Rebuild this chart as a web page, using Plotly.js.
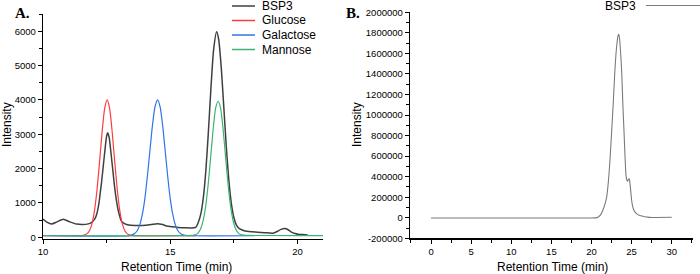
<!DOCTYPE html>
<html>
<head>
<meta charset="utf-8">
<script src="https://cdn.plot.ly/plotly-3.0.1.min.js"></script>
<style>html,body{margin:0;padding:0;background:#fff;}#chart{width:700px;height:274px;}</style>
</head>
<body>
<div id="chart"></div>
<script>
// ---------- Panel A data ----------
const seriesNamesA = ["BSP3", "Glucose", "Galactose", "Mannose"];

const bsp3X = [10.0,10.15,10.34,10.55,10.8,11.05,11.32,11.55,11.78,11.9,12.0,12.05,12.1,12.15,12.2,12.25,12.3,12.35,12.4,12.45,12.5,12.54,12.6,12.65,12.7,12.75,12.8,12.85,12.9,12.95,13.0,13.05,13.1,13.2,13.37,13.6,13.8,14.03,14.25,14.49,14.7,14.85,15.08,15.3,15.6,15.8,16.0,16.1,16.2,16.3,16.4,16.5,16.6,16.7,16.82,16.9,17.0,17.1,17.2,17.3,17.4,17.5,17.6,17.7,17.8,17.9,18.0,18.2,18.44,18.7,19.03,19.2,19.35,19.5,19.6,19.76,19.9,20.02,20.2,20.4];
const bsp3Y = [530,440,385,450,525,450,385,372,390,430,500,560,650,800,1000,1300,1600,1950,2300,2650,2950,3040,2900,2600,2250,1900,1550,1250,1000,800,650,520,450,400,358,345,343,350,370,397,370,330,305,288,275,272,290,430,680,1160,1970,3100,4370,5440,5980,5765,4970,3825,2650,1670,980,570,355,260,220,190,175,160,150,135,120,170,230,257,235,150,110,90,78,70];

const gluX = [10.0,11.5,11.62,11.72,11.82,11.92,12.02,12.12,12.22,12.32,12.42,12.52,12.62,12.72,12.82,12.92,13.02,13.12,13.22,13.32,13.42,13.6,16.0];
const gluY = [50,50,65,100,185,385,760,1370,2180,3050,3740,4000,3740,3050,2180,1370,760,385,185,100,65,50,50];

const galX = [10.0,13.4,13.5,13.6,13.7,13.8,13.9,14.0,14.1,14.2,14.3,14.4,14.5,14.6,14.7,14.8,14.9,15.0,15.1,15.2,15.3,15.4,15.5,15.6,15.8,18.3];
const galY = [45,45,70,110,190,360,660,1120,1770,2520,3260,3800,4000,3800,3260,2520,1770,1120,660,360,190,110,70,57,45,45];

const manX = [10.0,15.88,15.98,16.08,16.18,16.28,16.38,16.48,16.58,16.68,16.78,16.88,16.98,17.08,17.18,17.28,17.38,17.48,17.58,17.68,17.78,17.9,18.1,21.0];
const manY = [52,56,72,115,225,450,850,1470,2275,3110,3755,3960,3755,3110,2275,1470,850,450,225,115,80,65,55,50];

const xTicksA = [10, 15, 20];
const xTickTextA = ["10", "15", "20"];
const yTicksA = [0, 1000, 2000, 3000, 4000, 5000, 6000];
const yTickTextA = ["0", "1000", "2000", "3000", "4000", "5000", "6000"];

// ---------- Panel B data ----------
const seriesNameB = "BSP3";
const bX = [0,20.0,20.5,20.8,21.1,21.4,21.7,21.9,22.1,22.3,22.5,22.7,22.9,23.1,23.3,23.4,23.5,23.65,23.77,23.9,24.06,24.2,24.3,24.4,24.5,24.6,24.7,24.8,24.9,25.0,25.1,25.3,25.6,26.0,26.5,27.0,27.5,28.0,30.0];
const bY = [-3000,-3000,-1000,5000,25000,70000,140000,205000,350000,560000,823000,1100000,1409000,1640000,1770000,1785000,1740000,1580000,1409000,1120000,823000,560000,410000,370000,355000,375000,380000,330000,250000,173000,120000,70000,40000,22000,13000,6000,3000,3000,5000];

const xTicksB = [0, 5, 10, 15, 20, 25, 30];
const xTickTextB = ["0", "5", "10", "15", "20", "25", "30"];
const yTicksB = [-200000, 0, 200000, 400000, 600000, 800000, 1000000, 1200000, 1400000, 1600000, 1800000, 2000000];
const yTickTextB = ["-200000", "0", "200000", "400000", "600000", "800000", "1000000", "1200000", "1400000", "1600000", "1800000", "2000000"];

// ---------- styles ----------
const colorsA = ["#404040", "#ff3b3b", "#2f74e6", "#3cb371"];
const widthsA = [1.5, 1.2, 1.2, 1.2];
const FONT = "Liberation Sans, Arial, sans-serif";
const W = 700, H = 274;
const px = v => v / W;
const py = v => 1 - v / H;

const xsA = [bsp3X, gluX, galX, manX];
const ysA = [bsp3Y, gluY, galY, manY];

const traces = seriesNamesA.map((n, i) => ({
  x: xsA[i], y: ysA[i], name: n, type: "scatter", mode: "lines",
  line: { color: colorsA[i], width: widthsA[i], shape: "spline", smoothing: 0.6 },
  xaxis: "x", yaxis: "y", showlegend: false, hoverinfo: "skip"
}));
traces.push({
  x: bX, y: bY, name: seriesNameB, type: "scatter", mode: "lines",
  line: { color: "#7a7a7a", width: 1.1, shape: "spline", smoothing: 0.6 },
  xaxis: "x2", yaxis: "y2", showlegend: false, hoverinfo: "skip"
});

const axisCommon = {
  showline: true, linecolor: "#000", linewidth: 1.3, mirror: false,
  showgrid: false, zeroline: false, ticks: "outside", ticklen: 4,
  tickwidth: 1, tickcolor: "#000", tickmode: "array",
  tickfont: { family: FONT, size: 9.5, color: "#000" }
};

const shapes = [];
const annotations = [];

// Panel A legend (manual)
const legRowsA = [6, 20.5, 35, 49.5];
seriesNamesA.forEach((n, i) => {
  shapes.push({ type: "line", xref: "paper", yref: "paper",
    x0: px(232), x1: px(255), y0: py(legRowsA[i]), y1: py(legRowsA[i]),
    line: { color: colorsA[i], width: 1.5 } });
  annotations.push({ xref: "paper", yref: "paper", x: px(260), y: py(legRowsA[i]),
    text: n, showarrow: false, xanchor: "left", yanchor: "middle",
    font: { family: FONT, size: 12, color: "#000" } });
});
// Panel B legend (text left, line right)
annotations.push({ xref: "paper", yref: "paper", x: px(638), y: py(5.5),
  text: seriesNameB, showarrow: false, xanchor: "right", yanchor: "middle",
  font: { family: FONT, size: 12, color: "#000" } });
shapes.push({ type: "line", xref: "paper", yref: "paper",
  x0: px(646), x1: px(700), y0: py(5.5), y1: py(5.5),
  line: { color: "#7a7a7a", width: 1.1 } });

// Panel labels
annotations.push({ xref: "paper", yref: "paper", x: px(13), y: py(13), text: "<b>A.</b>",
  showarrow: false, xanchor: "left", yanchor: "middle",
  font: { family: "Liberation Serif, Times New Roman, serif", size: 15, color: "#000" } });
annotations.push({ xref: "paper", yref: "paper", x: px(344), y: py(13), text: "<b>B.</b>",
  showarrow: false, xanchor: "left", yanchor: "middle",
  font: { family: "Liberation Serif, Times New Roman, serif", size: 15, color: "#000" } });

// Axis titles
const titleFont = { family: FONT, size: 12, color: "#000" };
annotations.push({ xref: "paper", yref: "paper", x: px(176), y: py(267), text: "Retention Time (min)",
  showarrow: false, xanchor: "center", yanchor: "middle", font: titleFont });
annotations.push({ xref: "paper", yref: "paper", x: px(552), y: py(267), text: "Retention Time (min)",
  showarrow: false, xanchor: "center", yanchor: "middle", font: titleFont });
annotations.push({ xref: "paper", yref: "paper", x: px(7), y: py(125), text: "Intensity",
  showarrow: false, xanchor: "center", yanchor: "middle", textangle: -90, font: titleFont });
annotations.push({ xref: "paper", yref: "paper", x: px(357), y: py(125), text: "Intensity",
  showarrow: false, xanchor: "center", yanchor: "middle", textangle: -90, font: titleFont });

const layout = {
  width: W, height: H, margin: { l: 0, r: 0, t: 0, b: 0 },
  paper_bgcolor: "#fff", plot_bgcolor: "#fff", showlegend: false,
  xaxis: Object.assign({}, axisCommon, {
    domain: [px(43), px(323)], range: [10, 21], anchor: "y",
    tickvals: xTicksA, ticktext: xTickTextA,
    minor: { ticks: "outside", ticklen: 3, tickcolor: "#000", dtick: 2.5, tick0: 0 }
  }),
  yaxis: Object.assign({}, axisCommon, {
    domain: [1 - 238.5 / H, 1 - 14 / H], range: [-35, 6500], anchor: "x",
    tickvals: yTicksA, ticktext: yTickTextA,
    minor: { ticks: "outside", ticklen: 3, tickcolor: "#000", dtick: 500, tick0: 0 }
  }),
  xaxis2: Object.assign({}, axisCommon, {
    domain: [px(410), px(693)], range: [-2.62, 32.65], anchor: "y2",
    tickvals: xTicksB, ticktext: xTickTextB,
    minor: { ticks: "outside", ticklen: 3, tickcolor: "#000", dtick: 2.5, tick0: 0 }
  }),
  yaxis2: Object.assign({}, axisCommon, {
    domain: [1 - 238.3 / H, 1 - 12.3 / H], range: [-200000, 2000000], anchor: "x2",
    tickvals: yTicksB, ticktext: yTickTextB,
    minor: { ticks: "outside", ticklen: 3, tickcolor: "#000", dtick: 100000, tick0: 0 }
  }),
  shapes: shapes, annotations: annotations
};

Plotly.newPlot("chart", traces, layout, { staticPlot: true, displayModeBar: false });
</script>
</body>
</html>
